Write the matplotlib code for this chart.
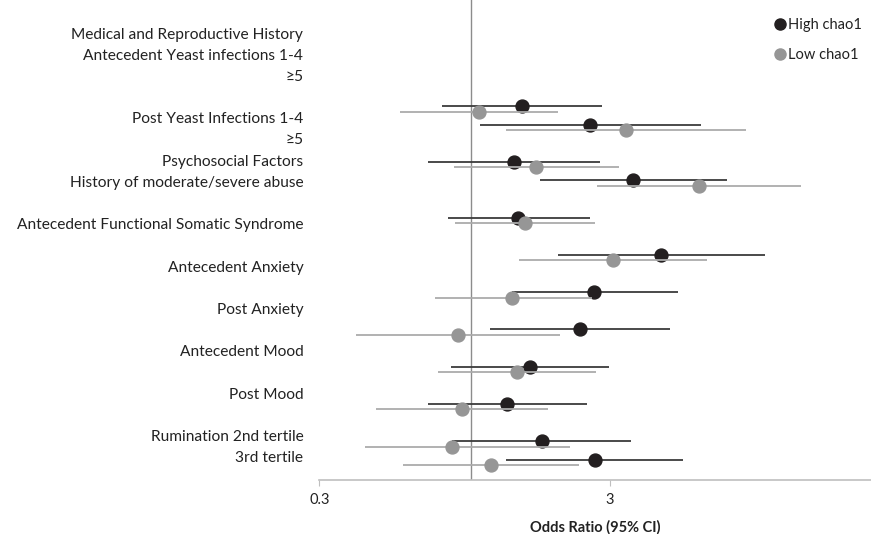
import matplotlib
matplotlib.use("Agg")
import matplotlib.pyplot as plt
from matplotlib.lines import Line2D

plt.rcParams['font.family'] = ['Lato', 'DejaVu Sans']

# Row labels (left axis, including blank spacer rows)
row_labels = [
    "Medical and Reproductive History",
    "Antecedent Yeast infections 1-4",
    "\u22655",
    "",
    "Post Yeast Infections 1-4",
    "\u22655",
    "Psychosocial Factors",
    "History of moderate/severe abuse",
    "",
    "Antecedent Functional Somatic Syndrome",
    "",
    "Antecedent Anxiety",
    "",
    "Post Anxiety",
    "",
    "Antecedent Mood",
    "",
    "Post Mood",
    "",
    "Rumination 2nd tertile",
    "3rd tertile",
]

# Estimate slot positions (plot rows)
slots = [0, 1, 3, 4, 6, 8, 10, 12, 14, 16, 18, 19]
gray_offset = 0.3

# High chao1 odds ratios and 95% CI
high_or = [1.49, 2.57, 1.40, 3.61, 1.45, 4.50, 2.64, 2.36, 1.59, 1.33, 1.75, 2.67]
high_lo = [0.79, 1.07, 0.71, 1.72, 0.83, 1.99, 1.38, 1.16, 0.85, 0.71, 0.86, 1.32]
high_hi = [2.82, 6.15, 2.76, 7.56, 2.55, 10.26, 5.13, 4.81, 2.97, 2.49, 3.54, 5.36]

# Low chao1 odds ratios and 95% CI
low_or = [1.06, 3.41, 1.67, 6.06, 1.53, 3.06, 1.38, 0.90, 1.44, 0.93, 0.86, 1.17]
low_lo = [0.57, 1.32, 0.87, 2.70, 0.88, 1.46, 0.75, 0.40, 0.77, 0.47, 0.43, 0.58]
low_hi = [1.98, 8.81, 3.21, 13.6, 2.67, 6.45, 2.60, 2.02, 2.69, 1.84, 2.19, 2.34]

x_ticks = [0.3, 3]
x_tick_labels = ["0.3", "3"]

W, H = 871, 534
fig = plt.figure(figsize=(W / 100, H / 100), dpi=100)
left_px, right_px, top_px, bottom_px = 319.3, 871, 0, 480
ax = fig.add_axes([left_px / W, 1 - bottom_px / H, (right_px - left_px) / W, (bottom_px - top_px) / H])
ax.set_xscale('log')
ax.set_xlim(0.3, 23.7)
ax.set_ylim(20.09, -5.69)

black_line = '#3c3c3c'
black_dot = '#231f20'
gray_line = '#ababab'
gray_dot = '#969696'

ax.axvline(1, color='#8c8c8c', lw=1.0, zorder=1)

y_high = list(slots)
y_low = [s + gray_offset for s in slots]
ax.hlines(y_high, high_lo, high_hi, color=black_line, lw=1.3, zorder=2)
ax.plot(high_or, y_high, 'o', color=black_dot, ms=9.3, zorder=3, linestyle='none')
ax.hlines(y_low, low_lo, low_hi, color=gray_line, lw=1.3, zorder=4)
ax.plot(low_or, y_low, 'o', color=gray_dot, ms=9.3, zorder=5, linestyle='none')

for s in ['left', 'right', 'top']:
    ax.spines[s].set_visible(False)
ax.spines['bottom'].set_color('#bfbfbf')
ax.spines['bottom'].set_linewidth(1.2)
ax.set_yticks([])
ax.set_xticks(x_ticks)
ax.set_xticklabels(x_tick_labels)
ax.xaxis.set_minor_locator(matplotlib.ticker.NullLocator())
ax.tick_params(axis='x', direction='out', length=4, color='#bfbfbf', labelsize=10.5,
               labelcolor='#222222', pad=5)
ax.set_xlabel("Odds Ratio (95% CI)", fontsize=10.5, fontweight='bold', color='#222222', labelpad=10)

# label axis
lab = ax.twinx()
lab.set_ylim(21.1, -1.558)
lab.yaxis.set_ticks_position('left')
lab.set_yticks(range(len(row_labels)))
lab.set_yticklabels(row_labels)
lab.tick_params(axis='y', length=0, pad=11.5, labelsize=11.2, labelcolor='#222222')
for s in ['left', 'right', 'top', 'bottom']:
    lab.spines[s].set_visible(False)

handles = [
    Line2D([], [], marker='o', color=black_dot, ms=8, linestyle='none'),
    Line2D([], [], marker='o', color=gray_dot, ms=8, linestyle='none'),
]
fig.legend(handles, ["High chao1", "Low chao1"], loc='upper left',
           bbox_to_anchor=(768 / W, 1 - 11 / H), frameon=False, fontsize=10.5,
           handlelength=0.6, handletextpad=0.25, labelspacing=1.1, borderpad=0,
           labelcolor='#222222')

fig.savefig("out.png", dpi=100)
